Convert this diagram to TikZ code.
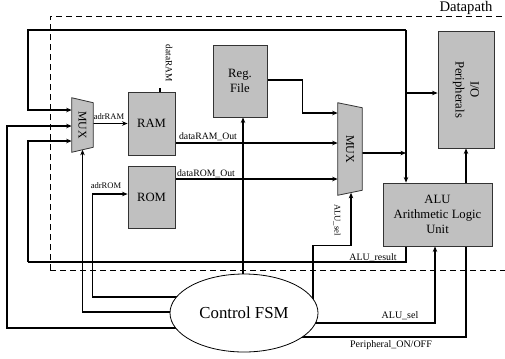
\documentclass[tikz,border=0pt]{standalone}
\usepackage{fontspec}
\setmainfont{Liberation Serif}
\usetikzlibrary{arrows.meta,calc,backgrounds,shapes.geometric}
\definecolor{boxgray}{RGB}{192,192,192}
\begin{document}
\begin{tikzpicture}[x=0.75pt,y=-0.75pt,
  blk/.style={draw=black!80, fill=boxgray, line width=0.6pt, inner sep=0pt, align=center, font=\fontsize{9.5}{11.25}\selectfont},
  arr/.style={-{Stealth[length=4.2pt,width=3.4pt]}, line width=0.8pt},
  ln/.style={line width=0.8pt},
  lbl/.style={inner sep=0pt, font=\fontsize{7.3}{8}\selectfont},
  slbl/.style={inner sep=0pt, font=\fontsize{6.4}{7}\selectfont},
  muxtxt/.style={inner sep=0pt, rotate=-90, font=\fontsize{8.8}{10}\selectfont},
  dsh/.style={dash pattern=on 4.5pt off 3pt, line width=0.6pt}
]
\useasboundingbox (0,0) rectangle (505,358);

% blocks
\node[blk, minimum width=35.25pt, minimum height=47.25pt] (ram) at (151.5,123.5) {RAM};
\node[blk, minimum width=35.25pt, minimum height=46.5pt] (rom) at (151.5,197) {ROM};
\node[blk, minimum width=40.5pt, minimum height=54pt] (rf) at (240,81) {Reg.\\File};
\node[blk, minimum width=42pt, minimum height=87.75pt] (io) at (466,89.5) {};
\node[inner sep=0pt, rotate=-90, align=center, font=\fontsize{9.5}{11.25}\selectfont] (iot) at (io) {I/O\\Peripherals};
\node[blk, minimum width=81.75pt, minimum height=47.25pt] (alu) at (437.5,214.5) {ALU\\Arithmetic Logic\\Unit};

% multiplexers
\node[minimum width=15.75pt, minimum height=40.5pt, inner sep=0pt] (mux1) at (82.5,125) {};
\draw[blk] (mux1.north west) -- ($(mux1.north east)+(0,5)$) -- ($(mux1.south east)+(0,-5)$) -- (mux1.south west) -- cycle;
\node[muxtxt] (mux1t) at (mux1) {MUX};
\node[minimum width=18pt, minimum height=69pt, inner sep=0pt] (mux2) at (350,149) {};
\draw[blk] (mux2.north west) -- ($(mux2.north east)+(0,5)$) -- ($(mux2.south east)+(0,-5)$) -- (mux2.south west) -- cycle;
\node[muxtxt, font=\fontsize{9}{10}\selectfont] (mux2t) at (mux2) {MUX};

% control FSM
\node[draw, fill=white, ellipse, minimum width=111pt, minimum height=58.5pt, inner sep=0pt, line width=0.6pt, font=\fontsize{12.6}{14}\selectfont] (fsm) at (244,313) {Control FSM};

% datapath label
\node[inner sep=0pt, anchor=base, font=\fontsize{11}{13}\selectfont] (dp) at (466,11) {Datapath};

\coordinate (tl) at (28,30);
\coordinate (tr) at (406,30);
\coordinate (lft) at (7,328);
\coordinate (res) at (28,262);

\begin{scope}[on background layer]
  \draw[dsh] (50,270) -- (50,16) -- (510,16);
  \draw[dsh] (50,270) -- (510,270);

  % top feedback bus
  \draw[arr] (tr) -- (tl) |- ($(mux1.west)+(0,-15)$);
  \draw[arr] (tr) -- (tr |- alu.north);
  \coordinate (iop) at ($(io.west)+(0,3.5)$);
  \draw[arr] (tr |- iop) -- (iop);
  \draw[arr] ($(ram.north)+(8.5,0)$ |- tl) -- ($(ram.north)+(8.5,0)$);

  % MUX1 inputs
  \draw[arr] ($(fsm.center)+(0,15)$) -- (lft) |- ($(mux1.west)+(0,1)$);
  \draw[ln] (tr |- alu.south) |- (res);
  \draw[arr] (res) |- ($(mux1.west)+(0,16)$);
  \draw[arr] ($(fsm.center)+(0,-1)$) -| ($(mux1.south)+(0,-2.5)$);

  % address lines
  \draw[arr] (mux1.east |- ram.west) -- (ram.west);
  \draw[arr] ($(fsm.center)+(0,-16)$) -| ($(rom.west)+(-35,-3)$) -- ($(rom.west)+(0,-3)$);

  % data to MUX2
  \draw[arr] ($(ram.east)+(0,19.5)$) coordinate (ro) -- (ro -| mux2.west);
  \draw[arr] ($(rom.east)+(0,-18)$) coordinate (so) -- (so -| mux2.west);
  \draw[arr] ($(rf.east)+(0,-1)$) -- ++(35,0) |- ($(mux2.west)+(0,-36)$);
  \draw[arr] ($(mux2.east)+(0,4)$) coordinate (mo) -- (mo -| tr);

  % control lines
  \draw[arr] ($(fsm.center)+(69,0)$) |- ($(mux2.south)+(1,50)$) -- ($(mux2.south)+(1,-2.5)$);
  \draw[arr] ($(fsm.center)+(-1,0)$) -- ($(rf.south)+(3,0)$);
  \draw[arr] ($(fsm.center)+(0,10)$) -| ($(alu.south)+(-2.5,0)$);
  \draw[arr] ($(fsm.center)+(0,24)$) -| (io.south);
\end{scope}

% labels
\node[lbl, rotate=-90, font=\fontsize{7}{8}\selectfont] (l1) at (169,63) {dataRAM};
\node[slbl] (l2) at (109,117) {adrRAM};
\node[slbl] (l3) at (106,186) {adrROM};
\node[lbl] (l4) at (208,137) {dataRAM\_Out};
\node[lbl] (l5) at (206,174) {dataROM\_Out};
\node[lbl, rotate=-90, font=\fontsize{6.5}{7}\selectfont] (l6) at (337,220) {ALU\_sel};
\node[lbl, font=\fontsize{7.4}{8}\selectfont] (l7) at (373,258) {ALU\_result};
\node[lbl, font=\fontsize{7.5}{8}\selectfont] (l8) at (400,316) {ALU\_sel};
\node[lbl, font=\fontsize{7.5}{8}\selectfont] (l9) at (391,345) {Peripheral\_ON/OFF};
\end{tikzpicture}
\end{document}
